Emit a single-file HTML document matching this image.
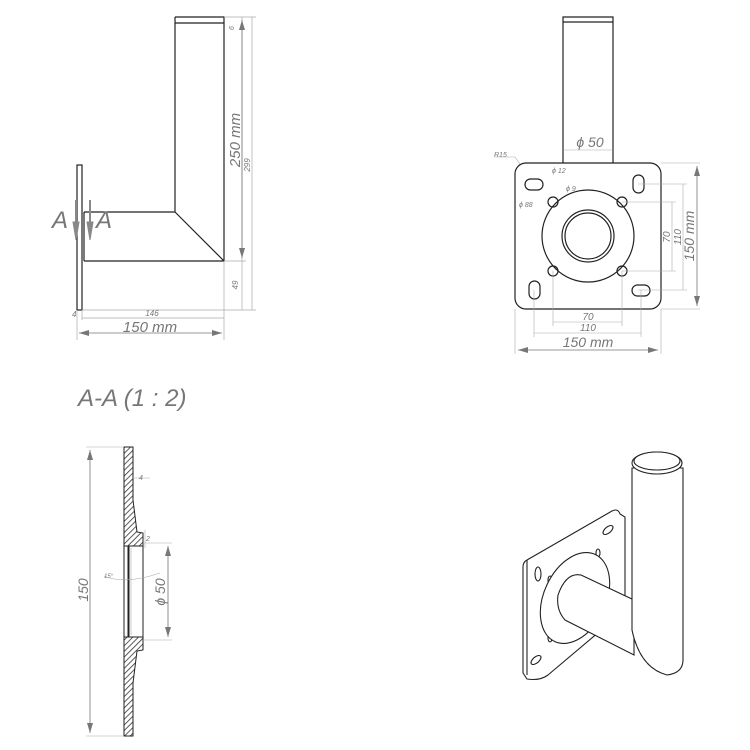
<!DOCTYPE html>
<html><head><meta charset="utf-8"><style>
html,body{margin:0;padding:0;background:#fff;width:750px;height:750px;overflow:hidden}
svg{display:block}
text{font-family:"Liberation Sans",sans-serif;font-style:italic;fill:#777}
</style></head><body>
<svg width="750" height="750" viewBox="0 0 750 750" xmlns="http://www.w3.org/2000/svg">
<defs>
<pattern id="h" width="4" height="4" patternUnits="userSpaceOnUse" patternTransform="rotate(45)">
<rect width="4" height="4" fill="#fff"/><line x1="0" y1="0" x2="0" y2="4" stroke="#333" stroke-width="1.6"/>
</pattern>
<marker id="ar" markerWidth="10" markerHeight="6" refX="10" refY="3" orient="auto-start-reverse" markerUnits="userSpaceOnUse"><path d="M0,0 L10,3 L0,6 z" fill="#777"/></marker>
</defs>

<!-- TOP LEFT side view -->
<g stroke="#222" stroke-width="1.2" fill="none">
<rect x="77" y="165" width="5" height="145"/>
<line x1="84" y1="212" x2="84" y2="261"/>
<path d="M175,17 L224,17 L224,261 L84,261 M84,212 L175,212 L175,17 M175,212 L224,261"/>
<line x1="175" y1="23" x2="224" y2="23"/>
</g>
<g stroke="#aaa" stroke-width="0.7" fill="none">
<line x1="224" y1="17" x2="256" y2="17"/>
<line x1="82" y1="310" x2="256" y2="310"/>
<line x1="224" y1="261" x2="246" y2="261"/>
<line x1="242" y1="17" x2="242" y2="310"/>
<line x1="252" y1="17" x2="252" y2="310"/>
<line x1="77" y1="310" x2="77" y2="340"/>
<line x1="224" y1="261" x2="224" y2="340"/>
<line x1="82" y1="310" x2="82" y2="320"/>
<line x1="82" y1="318" x2="224" y2="318"/>
</g>
<line x1="242" y1="20" x2="242" y2="258" stroke="#777" stroke-width="0.8" marker-start="url(#ar)" marker-end="url(#ar)"/>
<line x1="79" y1="333" x2="222" y2="333" stroke="#777" stroke-width="0.8" marker-start="url(#ar)" marker-end="url(#ar)"/>
<text x="150" y="332" font-size="15" text-anchor="middle">150 mm</text>
<text x="152" y="316" font-size="8" text-anchor="middle">146</text>
<text x="72" y="317" font-size="8">4</text>
<text transform="translate(240,140) rotate(-90)" font-size="15" text-anchor="middle">250 mm</text>
<text transform="translate(250,165) rotate(-90)" font-size="8" text-anchor="middle">299</text>
<text transform="translate(238,285) rotate(-90)" font-size="8" text-anchor="middle">49</text>
<text transform="translate(234,28) rotate(-90)" font-size="7" text-anchor="middle">6</text>
<text x="52" y="228" font-size="24" fill="#888">A</text>
<text x="96" y="228" font-size="24" fill="#888">A</text>
<g fill="#888" stroke="#888">
<line x1="76" y1="200" x2="76" y2="230" stroke-width="2"/><path d="M73,222 L79,222 L76,240 z"/>
<line x1="90" y1="200" x2="90" y2="230" stroke-width="2"/><path d="M87,222 L93,222 L90,240 z"/>
</g>

<!-- TOP RIGHT front view -->
<g stroke="#222" stroke-width="1.2" fill="none">
<path d="M563,163 L563,17 L613,17 L613,163"/>
<line x1="563" y1="22" x2="613" y2="22"/>
<rect x="515" y="163" width="146" height="146" rx="11"/>
<circle cx="588" cy="236" r="46"/>
<circle cx="588" cy="236" r="26"/>
<circle cx="588" cy="236" r="23"/>
<circle cx="553" cy="202" r="5"/><circle cx="622" cy="202" r="5"/>
<circle cx="553" cy="271" r="5"/><circle cx="622" cy="271" r="5"/>
<rect x="525" y="179" width="18" height="11" rx="5.5"/>
<rect x="633" y="175" width="11" height="18" rx="5.5"/>
<rect x="529" y="281" width="11" height="18" rx="5.5"/>
<rect x="632" y="285" width="18" height="11" rx="5.5"/>
</g>
<g stroke="#aaa" stroke-width="0.6" fill="none">
<line x1="563" y1="150" x2="613" y2="150"/>
<line x1="622" y1="202" x2="676" y2="202"/><line x1="622" y1="271" x2="676" y2="271"/>
<line x1="638" y1="184" x2="687" y2="184"/><line x1="638" y1="290" x2="687" y2="290"/>
<line x1="661" y1="163" x2="700" y2="163"/><line x1="661" y1="309" x2="700" y2="309"/>
<line x1="672" y1="202" x2="672" y2="271"/><line x1="683" y1="184" x2="683" y2="290"/>
<line x1="553" y1="271" x2="553" y2="326"/><line x1="622" y1="271" x2="622" y2="326"/>
<line x1="534" y1="290" x2="534" y2="337"/><line x1="641" y1="290" x2="641" y2="337"/>
<line x1="515" y1="309" x2="515" y2="354"/><line x1="661" y1="309" x2="661" y2="354"/>
<line x1="553" y1="322" x2="622" y2="322"/><line x1="534" y1="333" x2="641" y2="333"/>
<line x1="495" y1="157" x2="515" y2="157"/><line x1="515" y1="157" x2="520" y2="164"/>
</g>
<line x1="697" y1="166" x2="697" y2="306" stroke="#777" stroke-width="0.8" marker-start="url(#ar)" marker-end="url(#ar)"/>
<line x1="518" y1="350" x2="658" y2="350" stroke="#777" stroke-width="0.8" marker-start="url(#ar)" marker-end="url(#ar)"/>
<text x="590" y="147" font-size="14" text-anchor="middle">ϕ 50</text>
<text x="494" y="157" font-size="7">R15</text>
<text x="552" y="173" font-size="7">ϕ 12</text>
<text x="566" y="191" font-size="7">ϕ 9</text>
<text x="519" y="207" font-size="7">ϕ 88</text>
<text transform="translate(670,237) rotate(-90)" font-size="10" text-anchor="middle">70</text>
<text transform="translate(681,237) rotate(-90)" font-size="10" text-anchor="middle">110</text>
<text transform="translate(694,236) rotate(-90)" font-size="14" text-anchor="middle">150 mm</text>
<text x="588" y="320" font-size="10" text-anchor="middle">70</text>
<text x="588" y="331" font-size="10" text-anchor="middle">110</text>
<text x="588" y="347" font-size="14" text-anchor="middle">150 mm</text>

<text x="78" y="406" font-size="24" fill="#888">A-A (1 : 2)</text>

<!-- SECTION -->
<g stroke="#222" stroke-width="1">
<path d="M124,447 L133,447 L133,500 L137,532 L143,533 L143,546 L124,546 z" fill="url(#h)"/>
<path d="M124,736 L133,736 L133,683 L137,651 L143,650 L143,637 L124,637 z" fill="url(#h)"/>
<rect x="124" y="546" width="4" height="91" fill="#fff"/>
<rect x="129" y="546" width="14" height="91" fill="#fff"/>
<line x1="131" y1="548" x2="131" y2="635" stroke="#aaa" stroke-width="0.6"/>
</g>
<g stroke="#aaa" stroke-width="0.6" fill="none">
<line x1="86" y1="447" x2="124" y2="447"/><line x1="86" y1="736" x2="124" y2="736"/>
<line x1="143" y1="543" x2="172" y2="543"/><line x1="143" y1="640" x2="172" y2="640"/>
<line x1="133" y1="478" x2="150" y2="478"/>
<line x1="145" y1="530" x2="145" y2="548"/>
<path d="M104,576 Q125,585 160,573"/>
</g>
<line x1="90" y1="450" x2="90" y2="733" stroke="#777" stroke-width="0.8" marker-start="url(#ar)" marker-end="url(#ar)"/>
<line x1="168" y1="546" x2="168" y2="637" stroke="#777" stroke-width="0.8" marker-start="url(#ar)" marker-end="url(#ar)"/>
<text transform="translate(88,590) rotate(-90)" font-size="14" text-anchor="middle">150</text>
<text transform="translate(165,592) rotate(-90)" font-size="14" text-anchor="middle">ϕ 50</text>
<text x="139" y="480" font-size="7">4</text>
<text x="146" y="541" font-size="7">2</text>
<text x="104" y="578" font-size="6">15°</text>

<!-- ISOMETRIC -->
<g stroke="#222" stroke-width="1.1" fill="#fff">
<path d="M527,560 L612,511 Q618,508 620,514 L625,517 L625,610 L548,675 Q540,681 527,679 L523,673 L523,567 Q523,562 527,560 z"/>
<path d="M527,560 L527,675" fill="none"/>
<ellipse cx="608" cy="530" rx="6" ry="3" transform="rotate(-40 608 530)"/>
<ellipse cx="538" cy="574" rx="3" ry="7"/>
<ellipse cx="536" cy="660" rx="6" ry="3" transform="rotate(-40 536 660)"/>
<ellipse cx="598" cy="553" rx="2" ry="4"/>
<ellipse cx="550" cy="580" rx="2" ry="4"/>
<ellipse cx="550" cy="638" rx="2" ry="4"/>
<ellipse cx="575" cy="598" rx="31" ry="48" transform="rotate(25 575 598)"/>
<path d="M581,575 L634,600 L634,655 L565,620 Q556,610 558,595 Q566,572 581,575 z"/>
<path d="M632,468 L632,630 Q640,668 667,675 Q683,673 683,660 L683,468 z"/>
<ellipse cx="657" cy="463" rx="25" ry="11"/>
<ellipse cx="657" cy="461" rx="23" ry="9"/>
</g>
</svg>
</body></html>
